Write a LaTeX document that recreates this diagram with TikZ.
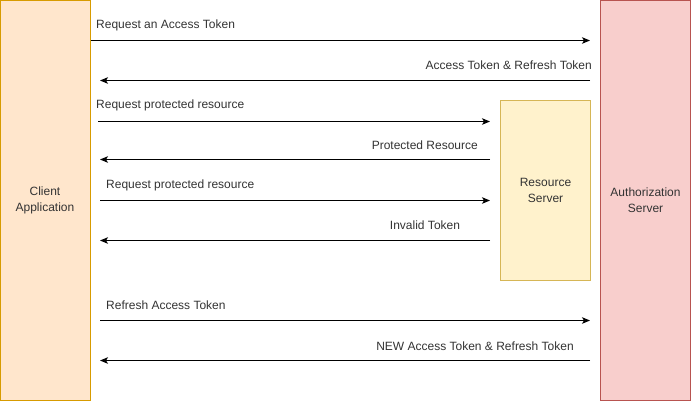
\documentclass[tikz,border=0pt]{standalone}
\usepackage{fontspec}
\setmainfont{Liberation Sans}
\usetikzlibrary{arrows.meta}
\definecolor{cfill}{HTML}{FFE6CC}\definecolor{cdraw}{HTML}{D79B00}
\definecolor{rfill}{HTML}{FFF2CC}\definecolor{rdraw}{HTML}{D6B656}
\definecolor{afill}{HTML}{F8CECC}\definecolor{adraw}{HTML}{B85450}
\definecolor{txt}{HTML}{333333}
\begin{document}
\begin{tikzpicture}[x=1pt,y=-1pt,
  box/.style={draw, line width=1pt, align=center, font=\fontsize{12}{16}\selectfont, text=txt, inner sep=0pt},
  lbl/.style={font=\fontsize{12}{14}\selectfont, text=txt, inner sep=0pt},
  msg/.style={line width=1pt, -{Stealth[length=8pt,width=6.5pt,inset=2pt]}}]
\useasboundingbox (0,0) rectangle (692,402);
\node[box, fill=cfill, draw=cdraw, minimum width=90pt, minimum height=400pt] (client) at (45,200.5) {Client\\Application};
\node[box, fill=afill, draw=adraw, minimum width=90pt, minimum height=400pt] (auth) at (645.5,200.5) {Authorization\\Server};
\node[box, fill=rfill, draw=rdraw, minimum width=90pt, minimum height=180pt] (res) at (545.5,190.5) {Resource\\Server};
% anchors
\coordinate (c1) at (90.5,40.5);   \coordinate (a1) at (590,40.5);
\coordinate (a2) at (590,80.5);    \coordinate (c2) at (100,80.5);
\coordinate (c3) at (98,121.5);    \coordinate (r3) at (490,121.5);
\coordinate (r4) at (490,159.5);   \coordinate (c4) at (100,159.5);
\coordinate (c5) at (100,200.5);   \coordinate (r5) at (490,200.5);
\coordinate (r6) at (490,240.5);   \coordinate (c6) at (100,240.5);
\coordinate (c7) at (100,320.5);   \coordinate (a7) at (590,320.5);
\coordinate (a8) at (590,360.5);   \coordinate (c8) at (100,360.5);
\draw[msg] (c1) -- (a1);
\draw[msg] (a2) -- (c2);
\draw[msg] (c3) -- (r3);
\draw[msg] (r4) -- (c4);
\draw[msg] (c5) -- (r5);
\draw[msg] (r6) -- (c6);
\draw[msg] (c7) -- (a7);
\draw[msg] (a8) -- (c8);
\node[lbl, anchor=west] (l1) at (96,25) {Request an Access Token};
\node[lbl, anchor=east] (l2) at (592,65) {Access Token \& Refresh Token};
\node[lbl, anchor=west] (l3) at (96,105) {Request protected resource};
\node[lbl, anchor=east] (l4) at (478,145) {Protected Resource};
\node[lbl, anchor=west] (l5) at (106,185) {Request protected resource};
\node[lbl] (l6) at (425,225) {Invalid Token};
\node[lbl, anchor=west] (l7) at (106,305) {Refresh Access Token};
\node[lbl] (l8) at (475,346) {NEW Access Token \& Refresh Token};
\end{tikzpicture}
\end{document}
